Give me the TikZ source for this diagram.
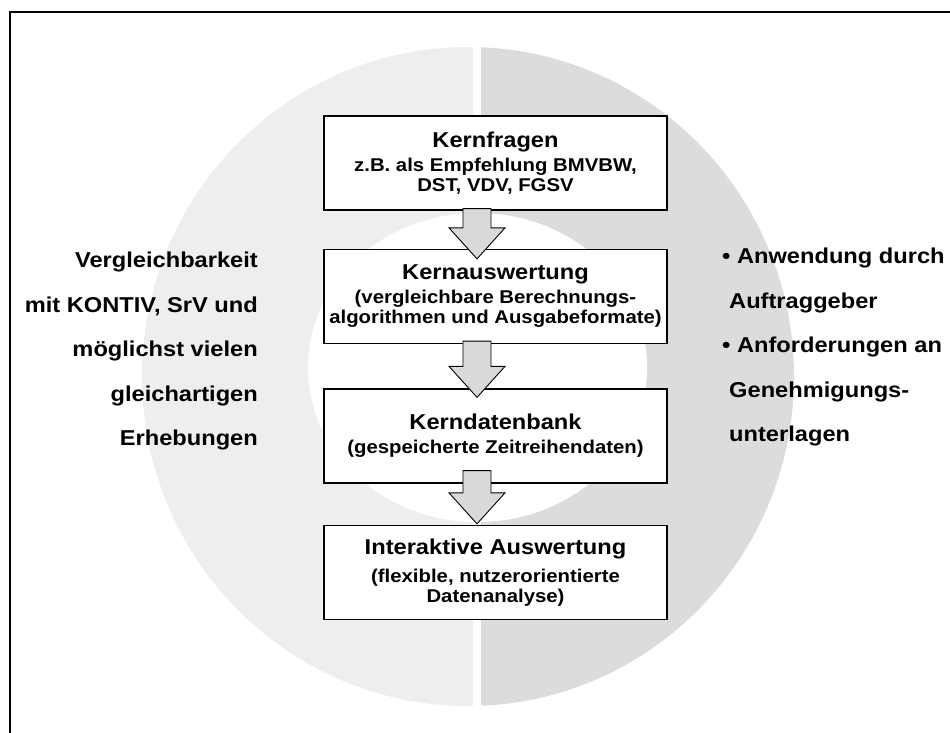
\documentclass[tikz,border=0pt]{standalone}
\usepackage{fontspec}
\setmainfont{Liberation Sans}[FakeStretch=1.1]
\usetikzlibrary{calc}

\definecolor{ringleft}{HTML}{EEEEEE}
\definecolor{ringright}{HTML}{DCDCDC}
\definecolor{arrowfill}{HTML}{D9D9D9}

\newcommand\titlefont{\fontsize{21.5}{24}\selectfont\bfseries}
\newcommand\subfont{\fontsize{18.5}{20}\selectfont\bfseries}
\newcommand\sidefont{\fontsize{21.5}{44.5}\selectfont\bfseries}

\tikzset{
  kernbox/.style={draw, line width=1.3pt, fill=white, minimum width=343pt,
    minimum height=94pt, align=center, font=\subfont, inner sep=2pt},
  sidetext/.style={font=\sidefont, inner sep=0pt},
  flowarrow/.style={draw, line width=0.9pt, fill=arrowfill, line join=miter},
}

\begin{document}
\begin{tikzpicture}[x=1pt,y=-1pt]

  \useasboundingbox (0,0) rectangle (950,733);
  \clip (0,0) rectangle (950,733);

  % ring halves
  \begin{scope}
    \clip (0,0) rectangle (477,733);
    \fill[ringleft] (468,376.5) ellipse [x radius=326, y radius=329.5];
  \end{scope}
  \begin{scope}
    \clip (477,0) rectangle (950,733);
    \fill[ringright] (468,376.5) ellipse [x radius=326, y radius=329.5];
  \end{scope}
  \fill[white] (473,30) rectangle (481,720);
  \fill[white] (477.5,367.5) ellipse [x radius=169.5, y radius=154.5];

  \draw[line width=2.5pt] (10,12) rectangle (980,780);

  \coordinate (axis) at (477,0);

  \node[kernbox] (k1) at (495.5,163)
    {{\titlefont Kernfragen}\\[4pt] z.B. als Empfehlung BMVBW,\\ DST, VDV, FGSV};
  \node[kernbox] (k2) at (495.5,296.5)
    {{\titlefont Kernauswertung}\\[4pt] (vergleichbare Berechnungs-\\ algorithmen und Ausgabeformate)};
  \node[kernbox] (k3) at (495.5,436)
    {{\titlefont Kerndatenbank}\\[4pt] (gespeicherte Zeitreihendaten)};
  \node[kernbox] (k4) at (495.5,572.5)
    {{\titlefont Interaktive Auswertung}\\[8pt] (flexible, nutzerorientierte\\ Datenanalyse)};

  \foreach \src/\dst/\a/\b in {k1/k2/2/10, k2/k3/3/9, k3/k4/13/-1}
    \draw[flowarrow]
      let \p1 = ($(axis |- \src.south)+(0,-\a)$),
          \p2 = ($(axis |- \dst.north)+(0,\b)$) in
      (\x1-14pt,\y1) -- (\x1+14pt,\y1) -- (\x1+14pt,\y2+31pt)
      -- (\x1+28pt,\y2+31pt) -- (\x2,\y2) -- (\x1-28pt,\y2+31pt)
      -- (\x1-14pt,\y2+31pt) -- cycle;

  \node[sidetext, align=right, anchor=north east] (vgl) at (258,252)
    {Vergleichbarkeit\\ mit KONTIV, SrV und\\ möglichst vielen\hspace*{.278em}\\
     gleichartigen\hspace*{.278em}\\ Erhebungen};
  \node[sidetext, align=left, anchor=north west] (anw) at (722,248)
    {• Anwendung durch\\ \hspace*{7pt}Auftraggeber\\ • Anforderungen an\\
     \hspace*{7pt}Genehmigungs-\\ \hspace*{7pt}unterlagen};

\end{tikzpicture}
\end{document}
